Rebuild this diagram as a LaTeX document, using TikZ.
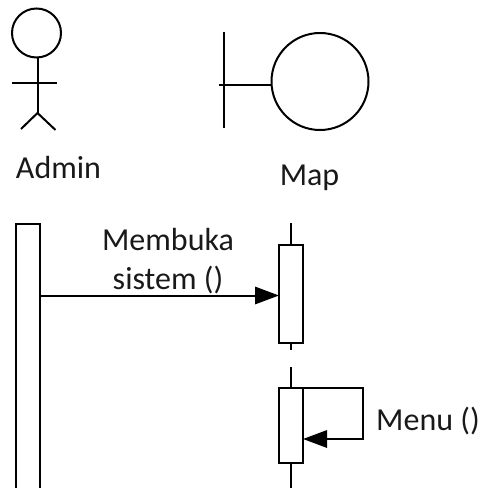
\documentclass[tikz,border=0pt]{standalone}
\usepackage{fontspec}
\setmainfont{Carlito}
\usetikzlibrary{arrows.meta}
\tikzset{
  ligne/.style={line width=1.5pt},
  libelle/.style={font=\fontsize{24}{28}\selectfont,inner sep=0pt,text=black!90},
  activation/.style={draw,ligne,fill=white,inner sep=0pt,outer sep=0pt,minimum width=24*0.75pt},
  fleche/.style={ligne,-{Triangle[length=18pt,width=13pt]}}
}
\begin{document}
\begin{tikzpicture}[x=0.75pt,y=-0.75pt]
    \useasboundingbox (0,0) rectangle (481,488);
    % acteur
    \node (tete) [circle,draw,ligne,outer sep=0pt,minimum size=49*0.75pt,inner sep=0pt] at (36.5,33) {};
    \coordinate (bassin) at (37.5,113);
    \draw [ligne](tete.south -| bassin) -- (bassin) ;
    \draw [ligne](12,83) -- (57,83) ;
    \draw [ligne](21,129) -- (bassin) -- (55.5,130) ;
    \node (admin) [libelle] at (58.5,168) {Admin};
    % frontiere
    \node (ecran) [circle,draw,ligne,outer sep=0pt,minimum size=97*0.75pt,inner sep=0pt] at (320,81.5) {};
    \draw [ligne](224,32) -- (224,128) ;
    \coordinate (barre) at (219,85);
    \draw [ligne](barre) -- (barre -| ecran.west) ;
    \node (map) [libelle] at (309.5,178) {Map};
    % lignes de vie
    \draw [ligne](16,488) -- (16,224) -- (40,224) -- (40,488) ;
    \coordinate (depart) at (40,295.5);
    \node (haut) [activation,minimum height=98*0.75pt] at (291,294) {};
    \node (bas) [activation,minimum height=75*0.75pt] at (291,425.5) {};
    \coordinate (vieA) at (291,223);
    \coordinate (vieB) at (291,350);
    \coordinate (vieC) at (291,367);
    \coordinate (vieD) at (291,488);
    \draw [ligne](vieA) -- (haut.north) ;
    \draw [ligne](haut.south) -- (vieB) ;
    \draw [ligne](vieC) -- (bas.north) ;
    \draw [ligne](bas.south) -- (vieD) ;
    % messages
    \draw [fleche](depart) -- (depart -| haut.west) ;
    \node (membuka) [libelle] at (168,240) {Membuka};
    \node (sistem) [libelle] at (168,280) {sistem ()};
    \coordinate (coinA) at (363,388);
    \coordinate (coinB) at (363,439);
    \draw [fleche](bas.north east) -- (coinA) -- (coinB) -- (coinB -| bas.east) ;
    \node (menu) [libelle] at (428,421) {Menu ()};
\end{tikzpicture}
\end{document}
